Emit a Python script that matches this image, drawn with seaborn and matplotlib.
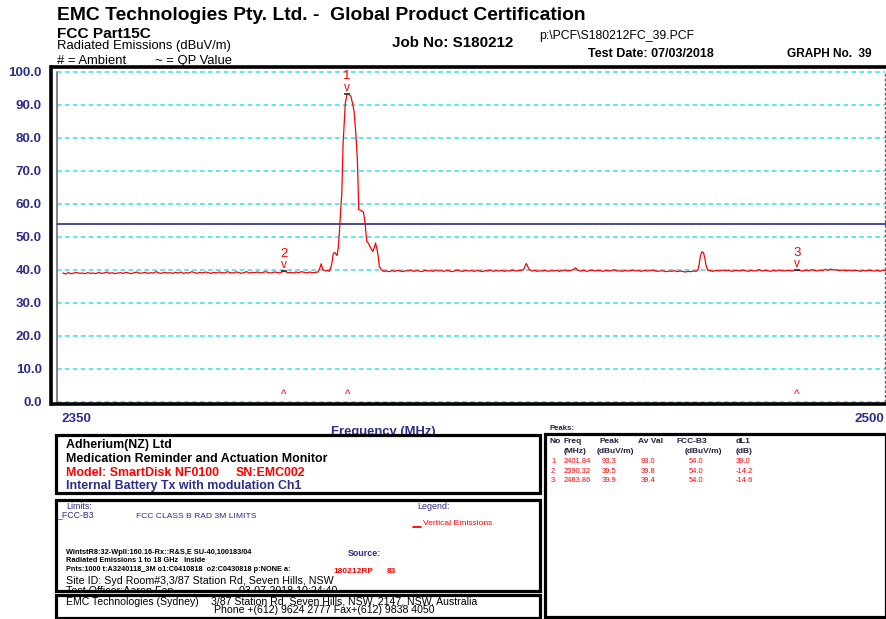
import numpy as np
import pandas as pd
import matplotlib
matplotlib.use("Agg")
import matplotlib.pyplot as plt
from matplotlib.patches import Rectangle
from matplotlib.lines import Line2D
from matplotlib.transforms import Bbox
import seaborn as sns

# ---------------------------------------------------------------- sweep data
SWEEP_STEP_MHZ = 0.5

floor_a_start = 2350.0
floor_a_level = [
    39.0, 38.7, 39.1, 38.8, 39.0, 39.2, 38.9, 39.0, 38.8, 39.1, 38.9,
    39.0, 38.8, 39.2, 38.9, 39.0, 39.3, 38.9, 39.1, 38.8, 39.0,
    39.1, 38.9, 39.2, 39.0, 38.8, 39.1, 39.3, 38.9, 39.0, 39.2,
    38.9, 39.1, 39.0, 39.4, 39.0, 38.9, 39.2, 39.0, 39.1, 38.9,
    39.2, 39.0, 39.3, 38.9, 39.1, 39.0, 39.4, 39.1, 38.9, 39.2,
    39.0, 39.3, 39.1, 38.9, 39.2, 39.0, 39.3, 39.1, 39.0, 39.4,
    39.1, 39.0, 39.3, 39.2, 38.9, 39.1, 39.4, 39.0, 39.2, 39.1,
    39.3, 39.0, 39.2, 39.4, 39.1, 39.0, 39.3, 39.2, 39.0, 39.4,
    39.5, 39.1, 39.2, 39.0, 39.3, 39.1, 39.4, 39.2, 39.0, 39.3, 39.1, 39.2,
]

peak1_freq = [
    2396.5, 2396.8, 2397.1, 2397.4, 2397.8, 2398.2, 2398.6, 2399.0, 2399.3,
    2399.6, 2400.0, 2400.2, 2400.4, 2400.65, 2400.85, 2401.1, 2401.5,
    2401.84, 2402.2, 2402.5, 2402.8, 2403.1, 2403.45, 2403.7, 2403.95,
    2404.3, 2404.8, 2405.1, 2405.4, 2405.7, 2406.0, 2406.5, 2406.8, 2407.0,
    2407.3, 2407.5, 2407.7, 2408.1, 2408.5,
]
peak1_level = [
    39.3, 40.2, 41.8, 40.0, 39.6, 39.8, 39.5, 41.5, 44.9,
    45.2, 44.3, 46.5, 51.0, 58.0, 63.0, 78.5, 90.6,
    93.3, 93.1, 92.6, 90.5, 88.0, 80.4, 73.3, 58.2,
    58.0, 57.5, 54.2, 48.6, 48.0, 47.0, 45.5, 46.8, 48.1,
    46.0, 44.0, 41.0, 39.9, 39.5,
]

floor_b_start = 2409.0
floor_b_level = [
    39.6, 39.4, 39.7, 39.5, 39.8, 39.6, 39.4, 39.7, 39.6, 39.9,
    39.5, 39.7, 39.6, 39.4, 39.8, 39.6, 39.7, 39.5, 39.9, 39.6,
    39.7, 39.5, 39.8, 39.6, 39.4, 39.7, 39.9, 39.6, 39.5, 39.8,
    39.6, 39.7, 39.5, 39.8, 39.6, 39.4, 39.7, 39.6, 39.9, 39.5,
    39.7, 39.6, 39.8, 39.5, 39.7, 39.6, 39.9, 39.6, 39.7, 39.8,
    40.0, 41.9, 40.1, 39.6, 39.8, 39.5, 39.7, 39.6, 39.8, 39.5,
    39.7, 39.6, 39.8, 39.5, 39.7, 39.9, 39.6, 39.7, 40.0, 40.5,
    39.7, 39.6, 39.8, 39.5, 39.7, 39.9, 39.6, 39.8, 39.7, 39.5,
    39.8, 39.6, 39.7, 40.0, 39.6, 39.7, 39.5, 39.8, 39.6, 39.7,
    39.9, 39.6, 39.7, 39.5, 39.8, 39.6, 39.7, 39.9, 39.6, 39.5,
    39.7, 39.6, 39.4, 39.6, 39.5, 39.7, 39.4, 39.6, 39.5, 39.3,
    39.5, 39.4, 39.6, 39.5,
]

peak2_freq = [2465.8, 2466.0, 2466.25, 2466.5, 2466.8, 2467.05, 2467.3, 2467.6]
peak2_level = [39.9, 41.5, 44.2, 45.4, 45.2, 43.5, 41.2, 39.8]

floor_c_start = 2468.0
floor_c_level = [
    39.7, 39.5, 39.8, 39.6, 39.7, 39.9, 39.6, 39.8, 39.5, 39.7,
    39.8, 39.6, 39.9, 39.7, 39.5, 39.8, 39.6, 39.7, 40.0, 39.6,
    39.8, 39.7, 39.5, 39.8, 39.6, 39.9, 39.7, 39.6, 39.8, 39.7,
    39.6, 39.8, 39.9, 39.7, 39.6, 39.9, 39.7, 40.0, 39.8, 39.6,
    39.9, 39.7, 40.1, 39.8, 40.2, 39.9, 40.0, 39.7, 39.9, 39.8,
    39.7, 39.9, 39.6, 39.8, 39.7, 39.5, 39.8, 39.6, 39.9, 39.7,
    39.6, 39.8, 39.5, 39.9, 39.7,
]

limit_level = 54.0

marker_no = [1, 2, 3]
marker_freq = [2401.84, 2390.32, 2483.86]
marker_peak = [93.3, 39.5, 39.9]
marker_avg = [93.0, 39.8, 39.4]
marker_limit = [54.0, 54.0, 54.0]
marker_dl1 = [39.0, -14.2, -14.6]

y_ticks = [0, 10, 20, 30, 40, 50, 60, 70, 80, 90, 100]
x_range = [2350, 2500]


def floor_freqs(start, levels):
    return list(start + SWEEP_STEP_MHZ * np.arange(len(levels)))


trace = pd.DataFrame({
    "freq": floor_freqs(floor_a_start, floor_a_level) + peak1_freq
    + floor_freqs(floor_b_start, floor_b_level) + peak2_freq
    + floor_freqs(floor_c_start, floor_c_level),
    "level": floor_a_level + peak1_level + floor_b_level + peak2_level + floor_c_level,
})

# ---------------------------------------------------------------- styling
sns.set_style("white")
plt.rcParams["font.family"] = ["Liberation Sans", "DejaVu Sans"]

W, H = 887, 619
NAVY = "#2d2d8a"
CYAN = "#2fe3f0"
RED = "#ff0000"

fig = plt.figure(figsize=(W / 100, H / 100), dpi=100)
fig.patch.set_facecolor("white")

# pixel geometry of the plot frame
X0_PX, X_PER_MHZ = 62.9, 5.484      # where 2350 MHz sits, pixels per MHz
Y0_PX, Y_PER_DB = 401.7, 3.3        # where 0 dB sits, pixels per dB
AX_L, AX_R, AX_T, AX_B = 51.5, 888.0, 66.5, 404.0


def px_to_f(px):
    return x_range[0] + (px - X0_PX) / X_PER_MHZ


def py_to_db(py):
    return (Y0_PX - py) / Y_PER_DB


ax = fig.add_axes([AX_L / W, 1 - AX_B / H, (AX_R - AX_L) / W, (AX_B - AX_T) / H])
ax.set_xlim(px_to_f(AX_L), px_to_f(AX_R))
ax.set_ylim(py_to_db(AX_B), py_to_db(AX_T))

for side in ["left", "top", "bottom"]:
    ax.spines[side].set_linewidth(2.6)
    ax.spines[side].set_color("black")
ax.spines["right"].set_visible(False)

# dashed reference lines every 10 dB
x_left_edge = px_to_f(57)
for v in y_ticks:
    ax.plot([x_left_edge, x_range[1]], [v, v], color=CYAN, lw=1.1,
            ls=(0, (3.0, 2.2)), zorder=1)
ax.plot([x_left_edge, x_left_edge], [0, 100], color="#7a7a7a", lw=1.3, zorder=1)
ax.plot([x_range[1], x_range[1]], [0, 100], color="#666666", lw=1.0,
        ls=(0, (2.0, 1.4)), zorder=1)

# limit line
ax.plot([x_left_edge, px_to_f(AX_R)], [limit_level, limit_level],
        color="#4a4a98", lw=1.4, zorder=2)

# measured trace
sns.lineplot(data=trace, x="freq", y="level", color=RED, lw=0.9,
             estimator=None, sort=False, ax=ax, zorder=3)

# peak markers
for no, f, p in zip(marker_no, marker_freq, marker_peak):
    ax.plot([f], [p], marker="_", color="#333333", ms=4, mew=1.2, zorder=4)
    ax.text(f, p + 1.0, "v", color=RED, fontsize=8.5, ha="center", va="baseline", zorder=5)
    ax.text(f, p + 4.4, str(no), color=RED, fontsize=9.5, ha="center", va="baseline", zorder=5)
    ax.text(f, 1.0, "^", color=RED, fontsize=8.5, ha="center", va="baseline", zorder=5)

ax.set_yticks(y_ticks)
ax.set_yticklabels([f"{v:.1f}" for v in y_ticks], color=NAVY, fontweight="bold", fontsize=9.6)
ax.tick_params(axis="y", length=0, pad=7)
ax.set_xticks([])
ax.set_xlabel("")
ax.set_ylabel("")


def ftext(x, y, s, size, color="black", weight="normal", ha="left", z=3, **kw):
    return fig.text(x / W, 1 - y / H, s, fontsize=size, color=color,
                    fontweight=weight, ha=ha, va="baseline", zorder=z, **kw)


def box(x0, y0, x1, y1):
    xy = (x0 / W, 1 - y1 / H)
    w, h = (x1 - x0) / W, (y1 - y0) / H
    # white body below the text, black frame above it
    fig.add_artist(Rectangle(xy, w, h, transform=fig.transFigure,
                             facecolor="white", edgecolor="none", zorder=1))
    fig.add_artist(Rectangle(xy, w, h, transform=fig.transFigure, fill=False,
                             edgecolor="black", lw=2.3, zorder=4))


# x axis texts
ftext(62.0, 422.5, f"{x_range[0]}", 9.6, NAVY, "bold")
ftext(884.0, 422.5, f"{x_range[1]}", 9.6, NAVY, "bold", ha="right")
ftext(383.0, 434.5, "Frequency (MHz)", 9.4, NAVY, "bold", ha="center", z=0.5)

# header
ftext(57, 19.5, "EMC Technologies Pty. Ltd. -  Global Product Certification", 13.9, weight="bold")
ftext(57, 37.5, "FCC Part15C", 11.1, weight="bold")
ftext(57, 49.5, "Radiated Emissions (dBuV/m)", 9.4)
ftext(57, 64.0, "# = Ambient", 9.4)
ftext(155, 64.0, "~ = QP Value", 9.4)
ftext(392.5, 46.7, "Job No: S180212", 10.9, weight="bold")
ftext(539.5, 39.3, "p:\\PCF\\S180212FC_39.PCF", 8.8)
ftext(588, 57.3, "Test Date: 07/03/2018", 9.0, weight="bold")
ftext(787, 57.3, "GRAPH No.  39", 8.6, weight="bold")

# equipment-under-test box
box(56, 435, 540, 493)
ftext(66, 448.0, "Adherium(NZ) Ltd", 8.9, weight="bold")
ftext(66, 461.7, "Medication Reminder and Actuation Monitor", 8.9, weight="bold")
ftext(66, 475.7, "Model: SmartDisk NF0100", 8.9, RED, "bold")
ftext(236, 475.7, "SN:EMC002", 8.9, RED, "bold")
ftext(66, 489.0, "Internal Battery Tx with modulation Ch1", 8.9, NAVY, "bold")

# limits / legend / settings box
box(56, 500, 540, 591)
clip_b = Bbox.from_extents(57, H - 590, 539, H - 501)
ftext(66.5, 509.0, "Limits:", 6.4, NAVY)
ftext(57, 517.7, "_FCC-B3", 6.3, NAVY)
ftext(136, 517.7, "FCC CLASS B RAD 3M LIMITS", 6.1, NAVY)
ftext(417, 509.0, "Legend:", 6.4, NAVY)
fig.add_artist(Line2D([413 / W, 421 / W], [1 - 526.5 / H] * 2, color=RED, lw=1.3,
                      transform=fig.transFigure, zorder=3))
ftext(423, 525.0, "Vertical Emissions", 6.1, RED)
ftext(66, 554.3, "WintstR8:32-Wpll:160.16-Rx::R&S,E SU-40,100183/04", 5.3, weight="bold")
ftext(66, 561.7, "Radiated Emissions 1 to 18 GHz   Inside", 5.3, weight="bold")
ftext(66, 571.0, "Pnts:1000 t:A3240118_3M o1:C0410818  o2:C0430818 p:NONE a:", 5.3, weight="bold")
ftext(348, 556.0, "Source:", 6.4, NAVY, "bold")
ftext(333, 573.3, "180212RP", 6.0, RED, "bold")
ftext(387, 573.3, "83", 6.0, RED, "bold")
ftext(66, 584.3, "Site ID: Syd Room#3,3/87 Station Rd, Seven Hills, NSW", 7.7)
ftext(66, 593.5, "Test Officer:Aaron Fan", 7.7, clip_box=clip_b, clip_on=True)
ftext(239, 593.5, "03-07-2018 10:24:40", 7.7, clip_box=clip_b, clip_on=True)

# address box
box(56, 595, 540, 618)
ftext(66, 605.0, "EMC Technologies (Sydney)", 7.6)
ftext(211, 605.0, "3/87 Station Rd, Seven Hills, NSW, 2147, NSW, Australia", 7.6)
ftext(214, 613.3, "Phone +(612) 9624 2777 Fax+(612) 9838 4050", 7.6)

# peaks table
ftext(550, 430.0, "Peaks:", 5.6, "#222244", "bold")
box(545, 434, 886, 617)
hdr_c = "#1e1e3c"
ftext(550, 443.3, "No", 6.0, hdr_c, "bold")
ftext(564, 443.3, "Freq", 6.0, hdr_c, "bold")
ftext(600, 443.3, "Peak", 6.0, hdr_c, "bold")
ftext(638, 443.3, "Av Val", 6.0, hdr_c, "bold")
ftext(677, 443.3, "FCC-B3", 6.0, hdr_c, "bold")
ftext(736, 443.3, "dL1", 6.0, hdr_c, "bold")
ftext(564, 453.0, "(MHz)", 6.0, hdr_c, "bold")
ftext(597, 453.0, "(dBuV/m)", 6.0, hdr_c, "bold")
ftext(685, 453.0, "(dBuV/m)", 6.0, hdr_c, "bold")
ftext(736, 453.0, "(dB)", 6.0, hdr_c, "bold")
row_y = [463.3, 472.7, 482.0]
for yb, no, f, p, a, lim, d in zip(row_y, marker_no, marker_freq, marker_peak,
                                     marker_avg, marker_limit, marker_dl1):
    ftext(551, yb, f"{no}", 5.4, RED)
    ftext(564, yb, f"{f:.2f}", 5.4, RED)
    ftext(602, yb, f"{p:.1f}", 5.4, RED)
    ftext(641, yb, f"{a:.1f}", 5.4, RED)
    ftext(689, yb, f"{lim:.1f}", 5.4, RED)
    ftext(736, yb, f"{d:.1f}", 5.4, RED)

fig.savefig("out.png", dpi=100)
